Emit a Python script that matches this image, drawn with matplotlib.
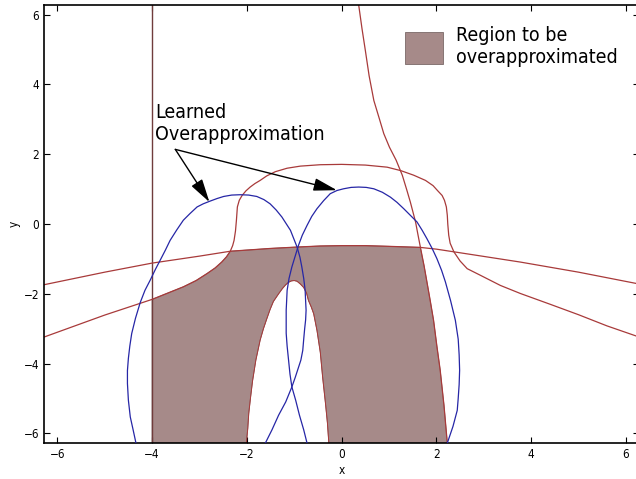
import numpy as np
import matplotlib
matplotlib.use("Agg")
import matplotlib.pyplot as plt

plt.rcParams["font.family"] = ["DejaVu Sans"]
plt.rcParams["font.stretch"] = "condensed"

# axis range and ticks
lim = 2 * np.pi
ticks = [-6, -4, -2, 0, 2, 4, 6]

# vertical boundary x = -4
line_x = -4.0

# wide arch (upper boundary of region)
arch_x = [-6.28, -5.0, -4.0, -3.0, -2.35, -1.5, -0.94, -0.45, 0.0, 0.5, 1.0, 1.66, 2.0, 2.72, 3.77, 5.0, 6.28]
arch_y = [-1.74, -1.38, -1.12, -0.92, -0.78, -0.70, -0.66, -0.63, -0.62, -0.62, -0.64, -0.67, -0.72, -0.87, -1.09, -1.38, -1.72]

# rounded "hat" curve
hat_x = [-6.28, -5.0, -4.0, -3.67, -3.34, -3.07, -2.84, -2.67, -2.53, -2.43, -2.35,
         -2.30, -2.27, -2.24, -2.22, -2.21, -2.20, -2.16, -2.10, -2.02, -1.93, -1.83, -1.72, -1.58, -1.40,
         -1.15, -0.87, -0.45, 0.0, 0.5, 0.96, 1.25, 1.52, 1.77, 1.93, 2.03, 2.12, 2.17, 2.21, 2.23, 2.24,
         2.26, 2.29, 2.37, 2.50, 2.65, 2.90, 3.35, 3.77, 4.40, 5.0, 5.60, 6.28]
hat_y = [-3.24, -2.61, -2.16, -1.98, -1.80, -1.62, -1.42, -1.26, -1.09, -0.94, -0.78,
         -0.62, -0.47, -0.20, 0.11, 0.30, 0.49, 0.68, 0.82, 0.95, 1.06, 1.16, 1.25, 1.38, 1.50,
         1.60, 1.66, 1.70, 1.71, 1.69, 1.63, 1.53, 1.40, 1.25, 1.10, 0.95, 0.82, 0.68, 0.49, 0.25, 0.0,
         -0.32, -0.55, -0.80, -1.06, -1.28, -1.45, -1.76, -1.99, -2.30, -2.60, -2.92, -3.24]

# steep curve coming down from the top (right boundary of region)
steep_x = [0.36, 0.43, 0.50, 0.58, 0.68, 0.80, 0.89, 1.01, 1.15, 1.28, 1.37, 1.45, 1.56, 1.61, 1.66,
           1.74, 1.80, 1.87, 1.94, 2.01, 2.08, 2.16, 2.23]
steep_y = [6.28, 5.60, 4.98, 4.25, 3.54, 3.00, 2.59, 2.20, 1.83, 1.40, 1.00, 0.63, 0.06, -0.30, -0.65,
           -1.20, -1.66, -2.20, -2.76, -3.50, -4.19, -5.20, -6.28]

# inner hole of the region
hole_x = [-2.01, -1.98, -1.96, -1.92, -1.88, -1.81, -1.72, -1.65, -1.58, -1.51, -1.44, -1.33, -1.25, -1.18,
          -1.12, -1.06, -1.00, -0.94, -0.87, -0.80, -0.74, -0.70, -0.64, -0.59, -0.52, -0.45, -0.40, -0.34,
          -0.30, -0.27]
hole_y = [-6.28, -5.85, -5.43, -4.95, -4.50, -3.90, -3.33, -3.00, -2.72, -2.45, -2.22, -2.00, -1.85, -1.74,
          -1.67, -1.63, -1.62, -1.64, -1.72, -1.82, -1.98, -2.19, -2.38, -2.57, -3.05, -3.68, -4.40, -5.15,
          -5.70, -6.28]

# learned ellipses
ell1_x = [-4.34, -4.40, -4.46, -4.50, -4.52, -4.52, -4.50, -4.47, -4.43, -4.35, -4.25, -4.15, -4.04, -3.93,
          -3.83, -3.72, -3.62, -3.48, -3.34, -3.20, -3.05, -2.92, -2.77, -2.63, -2.49, -2.32, -2.14, -1.96,
          -1.79, -1.64, -1.51, -1.38, -1.26, -1.17, -1.08, -1.01, -0.94, -0.88, -0.84, -0.80, -0.77, -0.76,
          -0.75, -0.76, -0.78, -0.80, -0.82, -0.86, -0.92, -0.98, -1.05, -1.18, -1.33, -1.47, -1.61]
ell1_y = [-6.28, -5.90, -5.53, -5.05, -4.57, -4.20, -3.85, -3.50, -3.14, -2.70, -2.25, -1.90, -1.61, -1.30,
          -1.04, -0.75, -0.47, -0.17, 0.11, 0.30, 0.49, 0.58, 0.66, 0.73, 0.79, 0.83, 0.84, 0.83,
          0.79, 0.70, 0.58, 0.40, 0.20, 0.01, -0.18, -0.42, -0.66, -0.95, -1.23, -1.56, -1.90, -2.20,
          -2.47, -2.75, -3.00, -3.30, -3.62, -3.90, -4.15, -4.40, -4.67, -5.10, -5.48, -5.90, -6.28]

ell2_x = [-0.73, -0.80, -0.89, -0.97, -1.05, -1.09, -1.12, -1.15, -1.17, -1.17, -1.17, -1.16, -1.15, -1.11,
          -1.05, -0.98, -0.91, -0.83, -0.73, -0.63, -0.52, -0.38, -0.24, -0.10, 0.04, 0.20, 0.36, 0.52,
          0.68, 0.86, 1.03, 1.17, 1.31, 1.45, 1.59, 1.70, 1.80, 1.91, 2.01, 2.11, 2.19, 2.30, 2.40, 2.46,
          2.48, 2.49, 2.48, 2.46, 2.44, 2.35, 2.23]
ell2_y = [-6.28, -5.90, -5.48, -5.05, -4.67, -4.30, -3.90, -3.50, -3.13, -2.80, -2.47, -2.19, -1.90, -1.56,
          -1.23, -0.92, -0.61, -0.32, -0.04, 0.22, 0.44, 0.67, 0.87, 0.96, 1.01, 1.05, 1.06, 1.05,
          1.01, 0.91, 0.77, 0.62, 0.44, 0.25, 0.06, -0.18, -0.42, -0.70, -0.99, -1.33, -1.66, -2.20, -2.76,
          -3.30, -3.75, -4.19, -4.60, -5.00, -5.34, -5.80, -6.28]

# annotation
label_text = "Learned\nOverapproximation"
label_pos = (-3.93, 3.46)
arrow_start = (-3.51, 2.14)
arrow_tips = [(-2.79, 0.63), (-0.10, 0.97)]

red = "#a83a3a"
blue = "#2626a6"
fill_color = "#a68a89"

fig = plt.figure(figsize=(6.36, 4.79), dpi=100)
ax = fig.add_axes([0.0690, 0.0747, 0.9363, 0.9152])

# region to be overapproximated, built from the boundary curves
reg_x = ([line_x, line_x] + hat_x[3:11] + arch_x[5:12] + steep_x[15:] + hole_x[::-1])
reg_y = ([-lim, hat_y[2]] + hat_y[3:11] + arch_y[5:12] + steep_y[15:] + hole_y[::-1])
ax.fill(reg_x, reg_y, facecolor=fill_color, edgecolor="#7a6868", lw=0.6,
        label="Region to be\noverapproximated", zorder=1)

ax.axvline(line_x, color="#703c3c", lw=1.0, zorder=2)
ax.plot(arch_x, arch_y, color=red, lw=0.9, zorder=2)
ax.plot(hat_x, hat_y, color=red, lw=0.9, zorder=2)
ax.plot(steep_x, steep_y, color=red, lw=0.9, zorder=2)
ax.plot(hole_x, hole_y, color=red, lw=0.7, zorder=2)
ax.plot(ell1_x, ell1_y, color=blue, lw=0.9, zorder=3)
ax.plot(ell2_x, ell2_y, color=blue, lw=0.9, zorder=3)

ax.text(label_pos[0], label_pos[1], label_text, fontsize=14, va="top", ha="left")
for tip in arrow_tips:
    ax.annotate("", xy=tip, xytext=arrow_start,
                arrowprops=dict(arrowstyle="-|>,head_length=1.1,head_width=0.3",
                                mutation_scale=13, color="black", lw=1.0,
                                shrinkA=0, shrinkB=0))

ax.set_xlim(-lim, lim)
ax.set_ylim(-lim, lim)
ax.set_xticks(ticks)
ax.set_yticks(ticks)
ax.tick_params(direction="in", top=True, right=True, length=4, labelsize=8.5)
for sp in ax.spines.values():
    sp.set_linewidth(1.2)
ax.set_xlabel("x", fontsize=8.5, labelpad=2)
ax.set_ylabel("y", fontsize=8.5, labelpad=2)

ax.legend(loc="upper left", bbox_to_anchor=(0.6064, 0.952), frameon=False, fontsize=14,
          handlelength=1.95, handleheight=2.15, handletextpad=0.65, borderpad=0, borderaxespad=0)

fig.savefig("out.png", dpi=100)
